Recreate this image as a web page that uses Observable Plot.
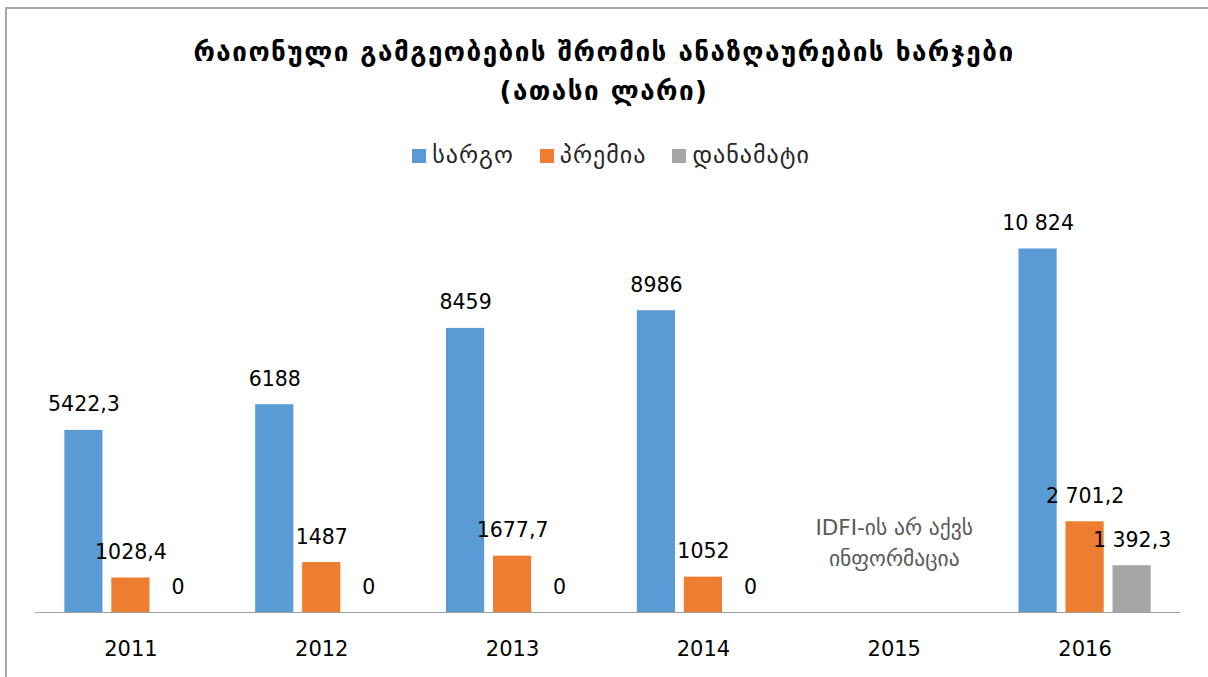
<!DOCTYPE html>
<html>
<head>
<meta charset="utf-8">
<script src="https://cdn.jsdelivr.net/npm/d3@7"></script>
<script src="https://cdn.jsdelivr.net/npm/@observablehq/plot@0.6"></script>
<style>
  html, body { margin: 0; padding: 0; background: #fff; overflow: hidden; }
  #wrap { position: relative; width: 1208px; height: 677px; overflow: hidden; background: #fff; }
  #frame { position: absolute; left: 5px; top: 7px; width: 1300px; height: 800px;
           border-left: 2px solid #a6a6a6; border-top: 2px solid #a6a6a6; box-sizing: border-box; pointer-events: none; }
  #title { position: absolute; left: 0; top: 0; width: 1208px; height: 130px; box-sizing: border-box;
           padding-top: 33px; text-align: center; font-family: "DejaVu Sans", sans-serif; font-weight: bold;
           font-size: 26px; letter-spacing: 1.5px; line-height: 39px; color: #000; }
  #legend { position: absolute; left: 7px; top: 130px; width: 1208px; height: 50px; text-align: center;
            font-family: "DejaVu Sans", sans-serif; font-size: 24px; letter-spacing: 1px; line-height: 50px; color: #262626; }
  .item { display: inline-block; margin: 0 13px; }
  .sw { display: inline-block; width: 14px; height: 14px; margin-right: 6px; vertical-align: baseline; }
  #chart { position: absolute; left: 0; top: 180px; }
</style>
</head>
<body>
<div id="wrap">
  <div id="title"></div>
  <div id="legend"></div>
  <div id="chart"></div>
  <div id="frame"></div>
</div>
<script>
// ---- data ----
const titleLines = ["რაიონული გამგეობების შრომის ანაზღაურების ხარჯები", "(ათასი ლარი)"];
const years = ["2011", "2012", "2013", "2014", "2015", "2016"];
const seriesNames = ["სარგო", "პრემია", "დანამატი"];
const seriesColors = ["#5B9BD5", "#ED7D31", "#A5A5A5"];
const sargo    = [5422.3, 6188, 8459, 8986, null, 10824];
const premia   = [1028.4, 1487, 1677.7, 1052, null, 2701.2];
const danamati = [0, 0, 0, 0, null, 1392.3];
const sargoLabels    = ["5422,3", "6188", "8459", "8986", null, "10 824"];
const premiaLabels   = ["1028,4", "1487", "1677,7", "1052", null, "2 701,2"];
const danamatiLabels = ["0", "0", "0", "0", null, "1 392,3"];
const noteYear = "2015";
const noteLines = ["IDFI-ის არ აქვს", "ინფორმაცია"];
const noteValue = 2150;

// ---- title & legend ----
document.getElementById("title").innerHTML = titleLines.join("<br>");
document.getElementById("legend").innerHTML = seriesNames.map((n, i) =>
  `<span class="item"><span class="sw" style="background:${seriesColors[i]}"></span>${n}</span>`).join("");

// ---- tables ----
const seriesValues = [sargo, premia, danamati];
const seriesLabels = [sargoLabels, premiaLabels, danamatiLabels];
const offsets = [-47, 0, 47];
const tables = seriesValues.map((vals, s) =>
  years.map((year, i) => ({year, value: vals[i], label: seriesLabels[s][i]}))
       .filter(d => d.value != null));

const marks = [];
tables.forEach((data, s) => {
  marks.push(Plot.barY(data, {x: "year", y: "value", dx: offsets[s], fill: seriesColors[s]}));
});
marks.push(Plot.ruleY([0], {stroke: "#a0a0a0", strokeWidth: 1}));
tables.forEach((data, s) => {
  marks.push(Plot.text(data, {x: "year", y: "value", text: "label", dx: offsets[s], dy: -19,
    lineAnchor: "bottom", fill: "#000", fontSize: 20.5}));
});
marks.push(Plot.text([noteLines.join("\n")], {x: () => noteYear, y: () => noteValue, text: d => d,
  lineAnchor: "middle", lineHeight: 1.45, fill: "#595959", fontSize: 21.5}));
marks.push(Plot.axisX({tickSize: 0, tickPadding: 29, fontSize: 21, fill: "#000"}));

const chart = Plot.plot({
  width: 1208,
  height: 497,
  marginLeft: 35,
  marginRight: 28,
  marginTop: 29,
  marginBottom: 65,
  style: {fontFamily: "'DejaVu Sans', sans-serif", background: "transparent", color: "#000"},
  x: {domain: years, type: "band", paddingInner: 0.8, paddingOuter: 0.4, round: false, label: null},
  y: {domain: [0, 12000], axis: null},
  marks
});
document.getElementById("chart").appendChild(chart);
</script>
</body>
</html>
